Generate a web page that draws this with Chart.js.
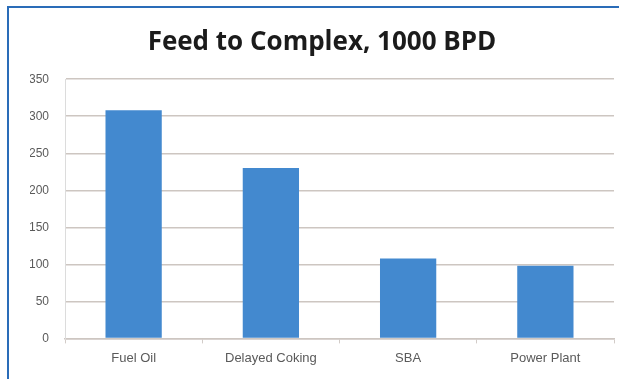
<!DOCTYPE html>
<html>
<head>
<meta charset="utf-8">
<script src="https://cdn.jsdelivr.net/npm/chart.js@4/dist/chart.umd.min.js"></script>
<style>
  html, body { margin: 0; padding: 0; background: #ffffff; overflow: hidden; width: 619px; height: 379px; }
  #frameLeft { position: absolute; left: 7px; top: 6px; width: 2px; height: 373px; background: #2a6cb8; }
  #frameTop { position: absolute; left: 7px; top: 6px; width: 612px; height: 2px; background: #2a6cb8; }
  #wrap { position: absolute; left: 10px; top: 8px; width: 621px; height: 371px; }
</style>
</head>
<body>
<div id="frameLeft"></div>
<div id="frameTop"></div>
<div id="wrap"><canvas id="chart" width="621" height="371"></canvas></div>
<script>
// Feed streams into the complex, thousand barrels per day
const categories = ["Fuel Oil", "Delayed Coking", "SBA", "Power Plant"];
const feedValues = [308, 230, 108, 98];
const yTicks = [0, 50, 100, 150, 200, 250, 300, 350];

const gridColor = "#cdc6c1";
const labelColor = "#5a5a5a";

new Chart(document.getElementById("chart"), {
  type: "bar",
  data: {
    labels: categories,
    datasets: [{
      data: feedValues,
      backgroundColor: "#4389cf",
      borderWidth: 0,
      barPercentage: 0.41,
      categoryPercentage: 1.0
    }]
  },
  options: {
    responsive: false,
    animation: false,
    devicePixelRatio: 1,
    layout: { padding: { left: 20, right: 17, top: 0, bottom: 6 } },
    plugins: {
      legend: { display: false },
      tooltip: { enabled: false },
      title: {
        display: true,
        text: "Feed to Complex, 1000 BPD",
        color: "#1b1b1b",
        font: { family: "'Open Sans', 'Liberation Sans', sans-serif", size: 26, weight: "bold" },
        padding: { top: 19, bottom: 21 }
      }
    },
    scales: {
      x: {
        grid: {
          display: true,
          drawOnChartArea: false,
          drawTicks: true,
          tickLength: 5,
          color: "#d2ccc8",
          offset: true
        },
        border: { display: true, color: gridColor, width: 1.5 },
        ticks: {
          color: labelColor,
          padding: 7,
          font: { family: "'Liberation Sans', Arial, sans-serif", size: 13 }
        }
      },
      y: {
        min: 0,
        max: 350,
        afterBuildTicks: (scale) => { scale.ticks = yTicks.map(v => ({ value: v })); },
        afterFit: (scale) => { scale.width = 35; },
        grid: { color: gridColor, lineWidth: 1.5, drawTicks: false },
        border: { display: true, color: "#dcdcdc", width: 1 },
        ticks: {
          color: labelColor,
          padding: 16,
          font: { family: "'Liberation Sans', Arial, sans-serif", size: 12 }
        }
      }
    }
  }
});
</script>
</body>
</html>
